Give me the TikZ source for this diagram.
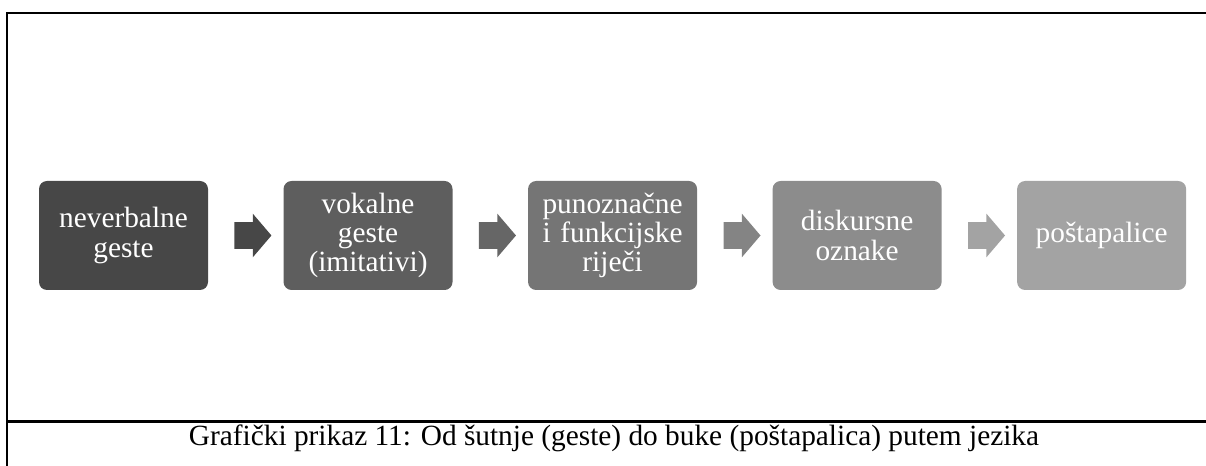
\documentclass[tikz,border=0pt]{standalone}
\usepackage{fontspec}
\setmainfont{Liberation Serif}
\usepackage{xcolor}
\usetikzlibrary{positioning,calc,shapes.arrows}
\definecolor{step1}{RGB}{71,71,71}
\definecolor{step2}{RGB}{94,94,94}
\definecolor{step3}{RGB}{117,117,117}
\definecolor{step4}{RGB}{140,140,140}
\definecolor{step5}{RGB}{163,163,163}
\definecolor{arr1}{RGB}{71,71,71}
\definecolor{arr2}{RGB}{102,102,102}
\definecolor{arr3}{RGB}{132,132,132}
\definecolor{arr4}{RGB}{163,163,163}
\tikzset{
  stagebox/.style={rectangle, rounded corners=6pt, inner sep=0pt,
    minimum width=126.75pt, minimum height=81.75pt, text width=124pt,
    align=center, text=white, font=\fontsize{22}{22}\selectfont},
  flowarrow/.style={single arrow, inner xsep=0pt, inner ysep=9.75pt,
    minimum height=27.75pt, single arrow head extend=6.4pt,
    single arrow tip angle=99},
}

\begin{document}
\begin{tikzpicture}[x=0.75pt,y=-0.75pt]
    \useasboundingbox (0,0) rectangle (1206,466);
    % Frame
    \draw[line width=1.6pt] (1206,12.7) -- (7,12.7) -- (7,466);
    \draw[line width=1.6pt] (7,421.5) -- (1206,421.5);
    % Stages
    \node[stagebox, fill=step1] (b1) at (123.5,235.5) {neverbalne\\geste};
    \node[stagebox, fill=step2, right=56.25pt of b1] (b2) {vokalne\\geste\\(imitativi)};
    \node[stagebox, fill=step3, right=56.25pt of b2] (b3) {punoznačne\\i funkcijske\\riječi};
    \node[stagebox, fill=step4, right=56.25pt of b3] (b4) {diskursne\\oznake};
    \node[stagebox, fill=step5, right=56.25pt of b4] (b5) {poštapalice};
    % Arrows
    \foreach \a/\b/\c in {b1/b2/arr1,b2/b3/arr2,b3/b4/arr3,b4/b5/arr4} {%
        \node[flowarrow, fill=\c] (\a\b) at ($(\a.east)!0.5!(\b.west) + (1.5,0)$) {};
    }
    % Caption
    \node[anchor=base, font=\fontsize{22}{22}\selectfont] (cap) at (614,445)
        {Grafički prikaz 11: Od šutnje (geste) do buke (poštapalica) putem jezika};
\end{tikzpicture}
\end{document}
